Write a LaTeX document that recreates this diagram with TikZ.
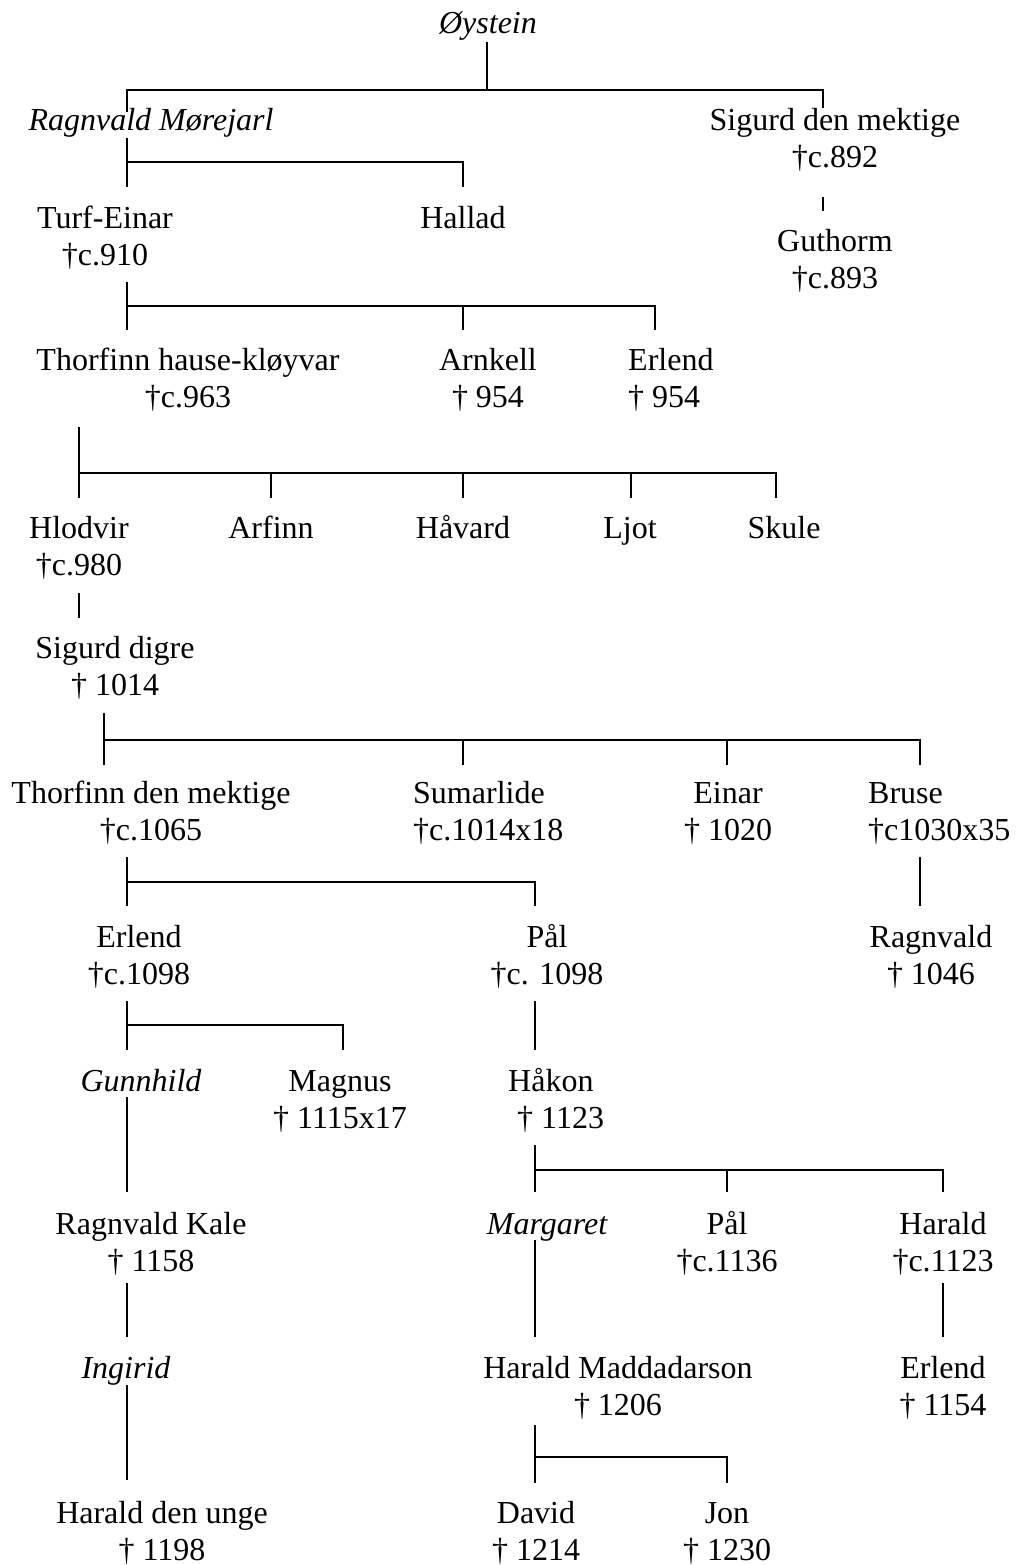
\documentclass[tikz,border=0pt]{standalone}
\usepackage{fontspec}
\setmainfont{Liberation Serif}
\begin{document}
\begin{tikzpicture}[x=1pt,y=-1pt,
  one/.style={anchor=base, inner sep=0pt, align=center, font=\fontsize{32}{37}\selectfont},
  person/.style={one, yshift=-37pt},
  personl/.style={person, anchor=base west, align=left},
  wife/.style={one, font=\fontsize{32}{37}\selectfont\itshape},
  line/.style={line width=1.8pt}]
\useasboundingbox[fill=white] (0,0) rectangle (1015,1565);

% ---------- persons (coordinates: centre x, baseline of first line) ----------
\node[wife]   (oystein)  at (488,34)   {Øystein};
\node[wife]   (ragnm)    at (151,131)  {Ragnvald Mørejarl};
\node[person] (sigurdm)  at (835,131)  {Sigurd den mektige\\†c.892};
\node[person] (turf)     at (105,228)  {Turf-Einar\\†c.910};
\node[one]    (hallad)   at (463,228)  {Hallad};
\node[person] (guthorm)  at (835,251)  {Guthorm\\†c.893};
\node[person] (thorh)    at (188,370)  {Thorfinn hause-kløyvar\\†c.963};
\node[person] (arnkell)  at (488,370)  {Arnkell\\† 954};
\node[personl](erlenda)  at (628,370)  {Erlend\\† 954};
\node[person] (hlodvir)  at (79,538)   {Hlodvir\\†c.980};
\node[one]    (arfinn)   at (271,538)  {Arfinn};
\node[one]    (havard)   at (463,538)  {Håvard};
\node[one]    (ljot)     at (630,538)  {Ljot};
\node[one]    (skule)    at (784,538)  {Skule};
\node[person] (sigurdd)  at (115,658)  {Sigurd digre\\† 1014};
\node[person] (thordm)   at (151,803)  {Thorfinn den mektige\\†c.1065};
\node[personl](sumarlide) at (413,803) {Sumarlide\\†c.1014x18};
\node[person] (einar)    at (728,803)  {Einar\\† 1020};
\node[personl](bruse)    at (868,803)  {Bruse\\†c1030x35};
\node[person] (erlendb)  at (139,947)  {Erlend\\†c.1098};
\node[person] (pala)     at (547,947)  {Pål\\†c. 1098};
\node[person] (ragnv)    at (931,947)  {Ragnvald\\† 1046};
\node[wife]   (gunnhild) at (141,1091) {Gunnhild};
\node[person] (magnus)   at (340,1091) {Magnus\\† 1115x17};
\node[personl](hakon)    at (508,1091) {Håkon\\\hspace*{9pt}† 1123};
\node[person] (ragnk)    at (151,1234) {Ragnvald Kale\\† 1158};
\node[wife]   (margaret) at (547,1234) {Margaret};
\node[person] (palb)     at (727,1234) {Pål\\†c.1136};
\node[person] (harald)   at (943,1234) {Harald\\†c.1123};
\node[wife]   (ingirid)  at (126,1378) {Ingirid};
\node[person] (haraldm)  at (618,1378) {Harald Maddadarson\\† 1206};
\node[person] (erlendc)  at (943,1378) {Erlend\\† 1154};
\node[person] (haraldu)  at (162,1523) {Harald den unge\\† 1198};
\node[person] (david)    at (536,1523) {David\\† 1214};
\node[person] (jon)      at (727,1523) {Jon\\† 1230};

% ---------- connector points ----------
\coordinate (oyS) at (487,42);   \coordinate (oyB) at (487,90);
\coordinate (rmT) at (127,112);  \coordinate (sdmT) at (823,108);
\coordinate (rmS) at (127,138);  \coordinate (rmB) at (127,162);
\coordinate (tuT) at (127,187);  \coordinate (haT) at (463,187);
\coordinate (sdmS) at (823,197); \coordinate (guT) at (823,211);
\coordinate (tuS) at (127,282);  \coordinate (tuB) at (127,306);
\coordinate (thT) at (127,330);  \coordinate (arT) at (463,330); \coordinate (eaT) at (655,330);
\coordinate (thS) at (79,427);   \coordinate (thB) at (79,473);
\coordinate (hlT) at (79,498);   \coordinate (afT) at (271,498); \coordinate (hvT) at (463,498);
\coordinate (ljT) at (631,498);  \coordinate (skT) at (776,498);
\coordinate (hlS) at (79,593);   \coordinate (sgT) at (79,618);
\coordinate (sgS) at (104,713);  \coordinate (sgB) at (104,740);
\coordinate (tdT) at (104,765);  \coordinate (suT) at (463,765); \coordinate (eiT) at (727,765); \coordinate (brT) at (920,765);
\coordinate (tdS) at (127,857);  \coordinate (tdB) at (127,882);
\coordinate (ebT) at (127,906);  \coordinate (paT) at (535,906);
\coordinate (brS) at (920,857);  \coordinate (rvT) at (920,906);
\coordinate (ebS) at (127,1001); \coordinate (ebB) at (127,1025);
\coordinate (gnT) at (127,1050); \coordinate (mgT) at (343,1050);
\coordinate (paS) at (535,1001); \coordinate (hkT) at (535,1050);
\coordinate (gnS) at (127,1097); \coordinate (rkT) at (127,1192);
\coordinate (hkS) at (535,1145); \coordinate (hkB) at (535,1170);
\coordinate (maT) at (535,1192); \coordinate (pbT) at (727,1192); \coordinate (hrT) at (943,1192);
\coordinate (rkS) at (127,1283); \coordinate (inT) at (127,1337);
\coordinate (maS) at (535,1240); \coordinate (hmT) at (535,1337);
\coordinate (hrS) at (943,1283); \coordinate (ecT) at (943,1337);
\coordinate (inS) at (127,1385); \coordinate (huT) at (127,1480);
\coordinate (hmS) at (535,1425); \coordinate (hmB) at (535,1457);
\coordinate (dvT) at (535,1483); \coordinate (jnT) at (727,1483);

% ---------- connectors ----------
\draw[line] (oyS) -- (oyB);
\draw[line] (rmT) |- (sdmT |- oyB) -- (sdmT);

\draw[line] (rmS) -- (tuT);
\draw[line] (rmB) -| (haT);

\draw[line] (sdmS) -- (guT);

\draw[line] (tuS) -- (thT);
\draw[line] (tuB) -| (eaT);
\draw[line] (arT |- tuB) -- (arT);

\draw[line] (thS) -- (hlT);
\draw[line] (thB) -| (skT);
\draw[line] (afT |- thB) -- (afT);
\draw[line] (hvT |- thB) -- (hvT);
\draw[line] (ljT |- thB) -- (ljT);

\draw[line] (hlS) -- (sgT);

\draw[line] (sgS) -- (tdT);
\draw[line] (sgB) -| (brT);
\draw[line] (suT |- sgB) -- (suT);
\draw[line] (eiT |- sgB) -- (eiT);

\draw[line] (tdS) -- (ebT);
\draw[line] (tdB) -| (paT);
\draw[line] (brS) -- (rvT);

\draw[line] (ebS) -- (gnT);
\draw[line] (ebB) -| (mgT);
\draw[line] (paS) -- (hkT);

\draw[line] (gnS) -- (rkT);
\draw[line] (hkS) -- (maT);
\draw[line] (hkB) -| (hrT);
\draw[line] (pbT |- hkB) -- (pbT);

\draw[line] (rkS) -- (inT);
\draw[line] (maS) -- (hmT);
\draw[line] (hrS) -- (ecT);

\draw[line] (inS) -- (huT);
\draw[line] (hmS) -- (dvT);
\draw[line] (hmB) -| (jnT);
\end{tikzpicture}
\end{document}
